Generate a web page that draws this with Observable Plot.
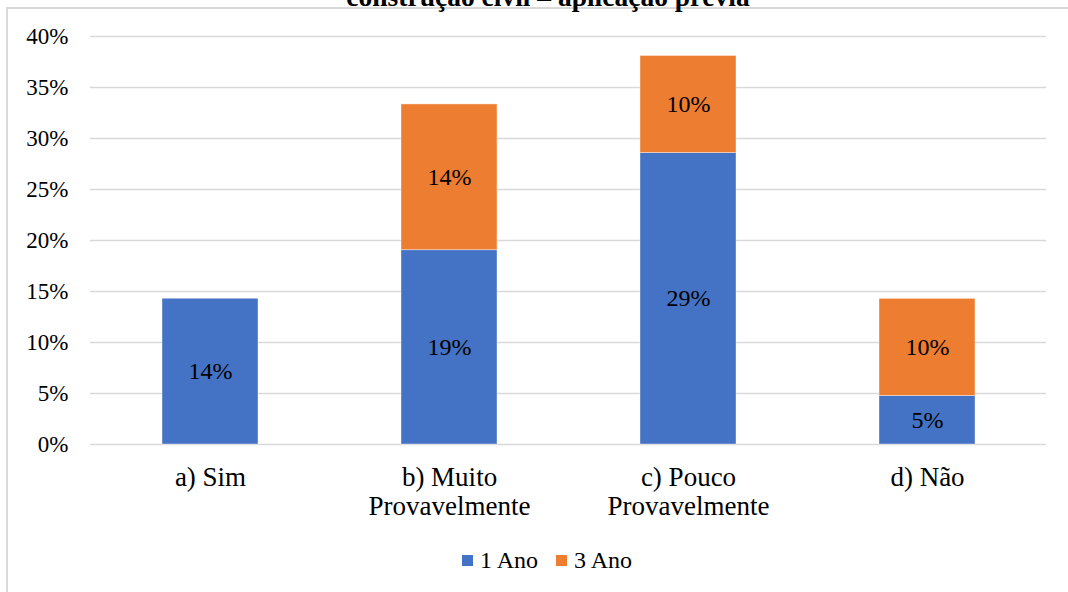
<!DOCTYPE html>
<html>
<head>
<meta charset="utf-8">
<script src="https://cdn.jsdelivr.net/npm/d3@7"></script>
<script src="https://cdn.jsdelivr.net/npm/@observablehq/plot@0.6"></script>
<style>
  html, body { margin: 0; padding: 0; background: #fff; }
  #wrap { position: relative; width: 1068px; height: 592px; overflow: hidden; font-family: "Liberation Serif", "Times New Roman", serif; }
  #frame { position: absolute; left: 6px; top: 7px; width: 1100px; height: 700px; border-left: 2px solid #d9d9d9; border-top: 2px solid #d9d9d9; box-sizing: border-box; }
  #title { position: absolute; left: 0; width: 1096px; top: -19px; text-align: center; font-weight: bold; font-size: 27.5px; color: #000; white-space: nowrap; }
  #legend { position: absolute; top: 547px; left: 0; width: 1094px; display: flex; justify-content: center; align-items: center; gap: 18px; font-size: 24px; color: #000; }
  .key { display: flex; align-items: center; gap: 7px; }
  .sw { width: 11px; height: 11px; display: inline-block; }
  #chart { position: absolute; left: 0; top: 0; }
  #chart svg text { font-family: "Liberation Serif", "Times New Roman", serif; }
</style>
</head>
<body>
<div id="wrap">
  <div id="frame"></div>
  <div id="title">construção civil – aplicação prévia</div>
  <div id="chart"></div>
  <div id="legend"></div>
</div>
<script>
// Categories (x axis) and the two series, in percent of respondents
const categories = ["a) Sim", "b) Muito\nProvavelmente", "c) Pouco\nProvavelmente", "d) Não"];
const seriesNames = ["1 Ano", "3 Ano"];
const ano1 = [14.29, 19.05, 28.57, 4.76];
const ano3 = [0, 14.29, 9.52, 9.52];
const seriesColors = ["#4472C4", "#ED7D31"];
const yTicks = [0, 5, 10, 15, 20, 25, 30, 35, 40];

// Long-format rows; "1 Ano" comes first so it sits at the bottom of each stack
const rows = [];
categories.forEach((c, i) => {
  rows.push({category: c, series: seriesNames[0], value: ano1[i]});
  rows.push({category: c, series: seriesNames[1], value: ano3[i]});
});

const font = "'Liberation Serif', 'Times New Roman', serif";

const chart = Plot.plot({
  width: 1068,
  height: 592,
  marginLeft: 90,
  marginRight: 22,
  marginTop: 36,
  marginBottom: 148,
  style: `font-family: ${font}; font-size: 23px; color: #000; background: transparent;`,
  x: {domain: categories, paddingInner: 0.6, paddingOuter: 0.3, label: null},
  y: {domain: [0, 40], label: null},
  color: {domain: seriesNames, range: seriesColors},
  marks: [
    Plot.ruleY(yTicks, {stroke: "#d9d9d9", strokeWidth: 1.5}),
    Plot.axisY({ticks: yTicks, tickSize: 0, tickPadding: 22, tickFormat: d => d + "%",
      fontFamily: font, fontSize: 23, fill: "#000"}),
    Plot.axisX({tickSize: 0, tickPadding: 22, lineHeight: 1.04,
      fontFamily: font, fontSize: 27, fill: "#000"}),
    Plot.barY(rows, Plot.stackY({
      x: "category", y: "value", fill: "series",
      stroke: "#fff", strokeOpacity: 0.5, strokeWidth: 0.8
    })),
    Plot.text(rows, Plot.stackY({
      filter: d => d.value > 0,
      x: "category", y: "value", z: "series",
      text: d => Math.round(d.value) + "%",
      fontFamily: font, fontSize: 24, fill: "#000"
    }))
  ]
});
document.getElementById("chart").appendChild(chart);

// Legend below the plot
const legend = document.getElementById("legend");
seriesNames.forEach((name, i) => {
  const key = document.createElement("span");
  key.className = "key";
  const sw = document.createElement("span");
  sw.className = "sw";
  sw.style.background = seriesColors[i];
  key.appendChild(sw);
  key.appendChild(document.createTextNode(name));
  legend.appendChild(key);
});
</script>
</body>
</html>
